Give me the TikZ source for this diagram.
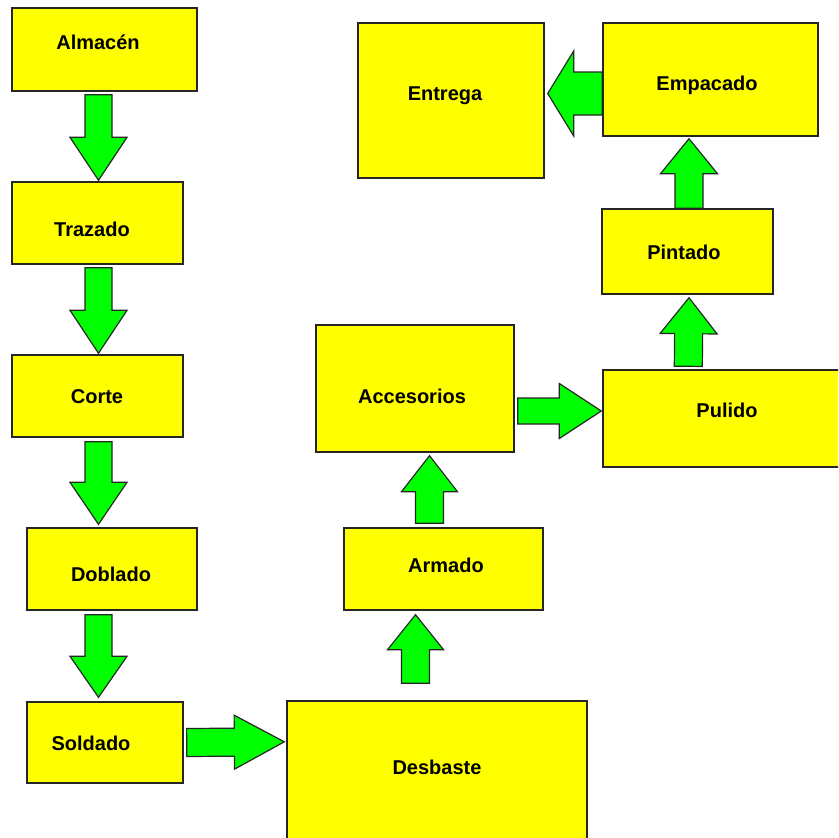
\documentclass[tikz,border=0pt]{standalone}
\usepackage{fontspec}
\setmainfont{Liberation Sans}
\usetikzlibrary{calc}
\definecolor{boxyellow}{RGB}{255,255,0}
\definecolor{arrgreen}{RGB}{0,255,0}
% block arrow: #1 start, #2 tip, #3 shaft half-width, #4 head half-width, #5 head length
\newcommand{\blockarr}[5]{%
  \draw[barrow] let \p1=(#1), \p2=(#2),
      \n1={atan2(\y2-\y1,\x2-\x1)}, \n2={veclen(\x2-\x1,\y2-\y1)} in
    [shift={(\p1)}, rotate=\n1]
    (0,-#3) -- ({\n2-#5},-#3) -- ({\n2-#5},-#4) -- ({\n2},0) --
    ({\n2-#5},#4) -- ({\n2-#5},#3) -- (0,#3) -- cycle;}
\begin{document}
\begin{tikzpicture}[x=1pt,y=-1pt,
  box/.style={draw=black!85, line width=1.4pt, fill=boxyellow, inner sep=0pt, anchor=center},
  lbl/.style={font=\fontsize{20}{24}\selectfont\bfseries, inner sep=0pt, anchor=mid, yshift=-5pt},
  barrow/.style={draw=black!85, line width=1.2pt, fill=arrgreen, line join=miter}]
\clip (0,0) rectangle (838,838);
\fill[white] (0,0) rectangle (838,838);
% boxes
\node[box, minimum width=185pt, minimum height=83pt]  (alm) at (104.5,49.5) {};
\node[box, minimum width=171pt, minimum height=82pt]  (trz) at (97.5,223) {};
\node[box, minimum width=171pt, minimum height=82pt]  (cor) at (97.5,396) {};
\node[box, minimum width=170pt, minimum height=82pt]  (dob) at (112,569) {};
\node[box, minimum width=156pt, minimum height=81pt]  (sol) at (105,742.5) {};
\node[box, minimum width=300pt, minimum height=158pt] (des) at (437,780) {};
\node[box, minimum width=199pt, minimum height=82pt]  (arm) at (443.5,569) {};
\node[box, minimum width=198pt, minimum height=127pt] (acc) at (415,388.5) {};
\node[box, minimum width=247pt, minimum height=97pt]  (pul) at (726.5,418.5) {};
\node[box, minimum width=171pt, minimum height=85pt]  (pin) at (687.5,251.5) {};
\node[box, minimum width=215pt, minimum height=113pt] (emp) at (710.5,79.5) {};
\node[box, minimum width=186pt, minimum height=155pt] (ent) at (451,100.5) {};
% labels
\node[lbl] (talm) at (98,42)   {Almacén};
\node[lbl] (ttrz) at (92,229)  {Trazado};
\node[lbl] (tcor) at (97,396)  {Corte};
\node[lbl] (tdob) at (111,574) {Doblado};
\node[lbl] (tsol) at (91,743)  {Soldado};
\node[lbl] (tdes) at (437,767) {Desbaste};
\node[lbl] (tarm) at (446,565) {Armado};
\node[lbl] (tacc) at (412,396) {Accesorios};
\node[lbl] (tpul) at (727,410) {Pulido};
\node[lbl] (tpin) at (684,252) {Pintado};
\node[lbl] (temp) at (707,83)  {Empacado};
\node[lbl] (tent) at (445,93)  {Entrega};
% arrows
\blockarr{$(alm.south)+(-6,3)$}{$(trz.north)+(1,-1)$}{13.5}{28.5}{43}
\blockarr{$(trz.south)+(1,3)$}{$(cor.north)+(1,-1)$}{13.5}{28.5}{43}
\blockarr{$(cor.south)+(1,4)$}{$(dob.north)+(-13.5,-3)$}{13.5}{28.5}{42}
\blockarr{$(dob.south)+(-13.5,4)$}{$(sol.north)+(-6.5,-4)$}{13.5}{28.5}{41}
\blockarr{$(sol.east)+(3,0)$}{$(des.north west)+(-2,41.5)$}{14}{27}{50}
\blockarr{$(des.north)+(-21.5,-17)$}{$(arm.south)+(-28,4)$}{14}{28}{35}
\blockarr{$(arm.north)+(-14,-4)$}{$(acc.south)+(14.5,3)$}{14}{28}{36}
\blockarr{$(acc.east)+(3,22.5)$}{$(pul.west)+(-1,-7.5)$}{13}{27.5}{42}
\blockarr{$(pul.north west)+(86,-3)$}{$(pin.south)+(1.5,3)$}{14}{28.5}{36}
\blockarr{$(pin.north)+(1.5,0)$}{$(emp.south)+(-21.5,2)$}{14}{28.5}{35}
\blockarr{$(emp.west)+(0,14)$}{$(ent.east)+(3,-7)$}{21.5}{42.5}{26}
\end{tikzpicture}
\end{document}
